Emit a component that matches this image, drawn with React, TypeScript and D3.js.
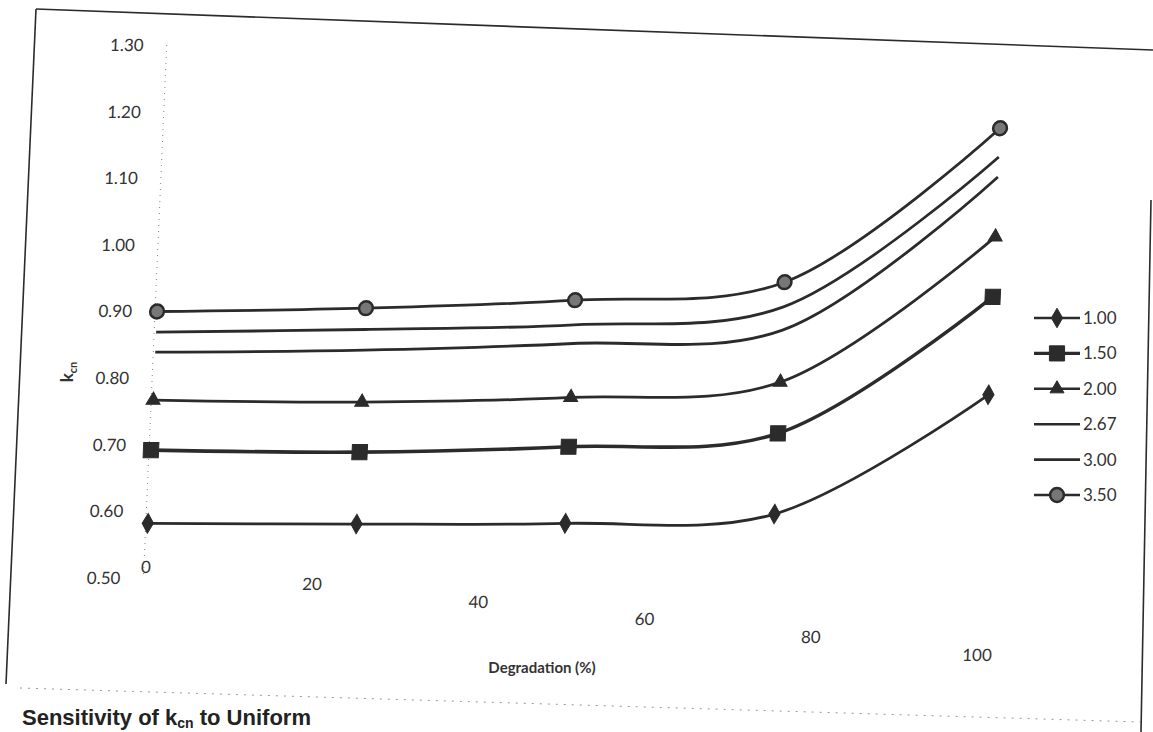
import React from 'react';
import * as d3 from 'd3';

const degradation = [0, 25, 50, 75, 100];
const seriesNames = ['1.00', '1.50', '2.00', '2.67', '3.00', '3.50'];
const s100 = [0.582, 0.581, 0.582, 0.596, 0.775];
const s150 = [0.692, 0.689, 0.697, 0.717, 0.922];
const s200 = [0.767, 0.764, 0.771, 0.794, 1.012];
const s267 = [0.839, 0.842, 0.852, 0.872, 1.102];
const s300 = [0.869, 0.873, 0.880, 0.907, 1.132];
const s350 = [0.900, 0.905, 0.917, 0.944, 1.175];
const yTicks = [0.5, 0.6, 0.7, 0.8, 0.9, 1.0, 1.1, 1.2, 1.3];
const xTicks = [0, 20, 40, 60, 80, 100];

const seriesValues = [s100, s150, s200, s267, s300, s350];
// marker per series (null = line only)
const markers: (d3.SymbolType | null)[] = [
  d3.symbolDiamond, d3.symbolSquare, d3.symbolTriangle, null, null, d3.symbolCircle,
];
const markerSize = [110, 230, 85, 0, 0, 150];

const W = 1153;
const H = 732;
const ink = '#2b2b2b';

const App: React.FC = () => {
  const x = d3.scaleLinear().domain([0, 100]).range([151, 986]);
  const y = d3.scaleLinear().domain([0.5, 1.3]).range([578, 45]);
  const line = d3.line<number>()
    .x((_, i) => x(degradation[i]))
    .y(d => y(d))
    .curve(d3.curveCatmullRom.alpha(0.5));
  const legendY = d3.scalePoint<string>().domain(seriesNames).range([318, 495]);

  // the scan is slightly sheared, mimic it
  const skewAng = -2.5;
  const skewShift = -Math.tan((skewAng * Math.PI) / 180) * 450;

  const sym = (i: number) =>
    d3.symbol().type(markers[i] as d3.SymbolType).size(markerSize[i])() || '';

  return (
    <svg width={W} height={H} style={{ position: 'absolute', left: 0, top: 0, background: '#fff' }}
      fontFamily="Lato, 'Open Sans', sans-serif">
      <rect width={W} height={H} fill="#fff" />
      {/* scanned frame */}
      <g stroke={ink} fill="none">
        <line x1={36} y1={9} x2={1153} y2={50} strokeWidth={1.6} />
        <line x1={36} y1={9} x2={6} y2={684} strokeWidth={1.6} />
        <line x1={1151} y1={200} x2={1141} y2={732} strokeWidth={1.6} />
        <line x1={20} y1={688} x2={1140} y2={722} strokeWidth={1} stroke="#999" strokeDasharray="2 6" />
      </g>

      <g transform={`translate(${skewShift},0) skewX(${skewAng})`}>
        {/* y axis (faint dotted) */}
        <line x1={149} x2={149} y1={y(1.3)} y2={y(0.5)} stroke="#888" strokeWidth={1} strokeDasharray="1 5" />
        {yTicks.map(t => (
          <text key={t} x={126} y={y(t)} dy="0.35em" textAnchor="end" fontSize={17} fill="#333">
            {t.toFixed(2)}
          </text>
        ))}
        {xTicks.map(t => (
          <text key={t} x={x(t)} y={572 + 0.105 * (x(t) - 143)} textAnchor="middle" fontSize={17} fill="#333">
            {t}
          </text>
        ))}

        {seriesValues.map((vals, i) => (
          <g key={seriesNames[i]}>
            <path d={line(vals) || ''} fill="none" stroke={ink} strokeWidth={i === 1 ? 3.6 : 2.8} />
            {markers[i] && vals.map((v, j) => (
              <path key={j} d={sym(i)} transform={`translate(${x(degradation[j])},${y(v)})`}
                fill={i === 5 ? '#777' : ink} stroke={ink} strokeWidth={i === 5 ? 2.5 : 1} />
            ))}
          </g>
        ))}
      </g>

      {/* axis titles */}
      <text x={542} y={673} textAnchor="middle" fontSize={15} fontWeight="bold" fill="#333">
        Degradation (%)
      </text>
      <text transform="translate(73,372) rotate(-90)" textAnchor="middle" fontSize={17} fontWeight="bold" fill="#333">
        k<tspan fontSize={11} dy={4}>cn</tspan>
      </text>

      {/* legend */}
      {seriesNames.map((name, i) => (
        <g key={name} transform={`translate(0,${legendY(name)})`}>
          <line x1={1034} x2={1080} y1={0} y2={0} stroke={ink} strokeWidth={i === 1 ? 3.4 : 2.6} />
          {markers[i] && (
            <path d={sym(i)} transform="translate(1057,0)" fill={i === 5 ? '#777' : ink} stroke={ink}
              strokeWidth={i === 5 ? 2.5 : 1} />
          )}
          <text x={1083} y={0} dy="0.35em" fontSize={17} fill="#333">{name}</text>
        </g>
      ))}

      {/* caption at the bottom edge */}
      <text x={22} y={725} fontSize={22} fontWeight="bold" fontFamily="'Liberation Sans', Arial, sans-serif" fill="#222">
        Sensitivity of k<tspan fontSize={14} dy={3}>cn</tspan><tspan dy={-3}> to Uniform</tspan>
      </text>
    </svg>
  );
};

export default App;
